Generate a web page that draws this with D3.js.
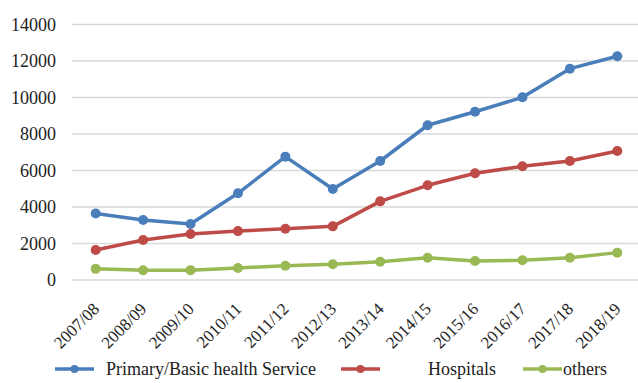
<!DOCTYPE html>
<html>
<head>
<meta charset="utf-8">
<script src="https://cdn.jsdelivr.net/npm/d3@7"></script>
<style>
  body { margin: 0; background: #fff; }
  svg text { font-family: "Liberation Serif", "DejaVu Serif", "Times New Roman", serif !important; fill: #222; }
</style>
</head>
<body>
<div id="chart"></div>
<script>
// Data
var years = ["2007/08", "2008/09", "2009/10", "2010/11", "2011/12", "2012/13",
             "2013/14", "2014/15", "2015/16", "2016/17", "2017/18", "2018/19"];
var primary = [3640, 3290, 3070, 4750, 6760, 4990, 6520, 8480, 9220, 10010, 11580, 12260];
var hospitals = [1640, 2190, 2520, 2680, 2810, 2940, 4310, 5190, 5850, 6230, 6520, 7070];
var others = [610, 530, 540, 660, 780, 860, 1000, 1220, 1040, 1080, 1220, 1500];
var yTicks = [0, 2000, 4000, 6000, 8000, 10000, 12000, 14000];

var series = [
  { name: "Primary/Basic health Service", values: primary, color: "#4a7ebb" },
  { name: "Hospitals", values: hospitals, color: "#be4b48" },
  { name: "others", values: others, color: "#98b954" }
];

var svgWidth = 638, svgHeight = 383;
var margin = { top: 24, right: 0, bottom: 103, left: 72 };

var svg = d3.select("#chart").append("svg")
  .attr("width", svgWidth)
  .attr("height", svgHeight);

var xScale = d3.scalePoint()
  .domain(years)
  .range([margin.left, 641])
  .padding(0.5);

var yScale = d3.scaleLinear()
  .domain([0, 14000])
  .range([280, 24.5]);

// gridlines
svg.append("g").selectAll("line")
  .data(yTicks)
  .enter().append("line")
  .attr("x1", margin.left)
  .attr("x2", svgWidth)
  .attr("y1", d => yScale(d))
  .attr("y2", d => yScale(d))
  .attr("stroke", "#d9d9d9")
  .attr("stroke-width", 1.5);

// y axis
var leftAxis = d3.axisLeft(yScale).tickValues(yTicks).tickFormat(d3.format("d"))
  .tickSize(0).tickPadding(0);
var yAxisG = svg.append("g")
  .attr("transform", "translate(56,0)")
  .call(leftAxis);
yAxisG.select(".domain").remove();
yAxisG.selectAll("text")
  .style("font-size", "18px")
  .attr("fill", "#222");

// x axis
var bottomAxis = d3.axisBottom(xScale).tickSize(0).tickPadding(0);
var xAxisG = svg.append("g")
  .attr("transform", "translate(0,280)")
  .call(bottomAxis);
xAxisG.select(".domain").remove();
xAxisG.selectAll("text")
  .style("font-size", "17px")
  .attr("fill", "#222")
  .attr("text-anchor", "end")
  .attr("dy", null)
  .attr("y", 0)
  .attr("transform", "translate(4,30) rotate(-45)");

// lines
var line = d3.line()
  .x((d, i) => xScale(years[i]))
  .y(d => yScale(d));

series.forEach(function(s) {
  svg.append("path")
    .datum(s.values)
    .attr("fill", "none")
    .attr("stroke", s.color)
    .attr("stroke-width", 3.5)
    .attr("stroke-linejoin", "round")
    .attr("d", line);

  svg.append("g").selectAll("circle")
    .data(s.values)
    .enter().append("circle")
    .attr("cx", (d, i) => xScale(years[i]))
    .attr("cy", d => yScale(d))
    .attr("r", 5)
    .attr("fill", s.color);
});

// legend
var legendItems = [
  { x1: 55, x2: 94, tx: 106, s: series[0] },
  { x1: 341, x2: 380, tx: 428, s: series[1] },
  { x1: 523, x2: 562, tx: 563, s: series[2] }
];
var legend = svg.append("g");
legendItems.forEach(function(item) {
  legend.append("line")
    .attr("x1", item.x1).attr("x2", item.x2)
    .attr("y1", 369).attr("y2", 369)
    .attr("stroke", item.s.color)
    .attr("stroke-width", 3.5);
  legend.append("circle")
    .attr("cx", (item.x1 + item.x2) / 2)
    .attr("cy", 369)
    .attr("r", 4)
    .attr("fill", item.s.color);
  legend.append("text")
    .attr("x", item.tx)
    .attr("y", 375)
    .style("font-size", "18px")
    .text(item.s.name);
});
</script>
</body>
</html>
